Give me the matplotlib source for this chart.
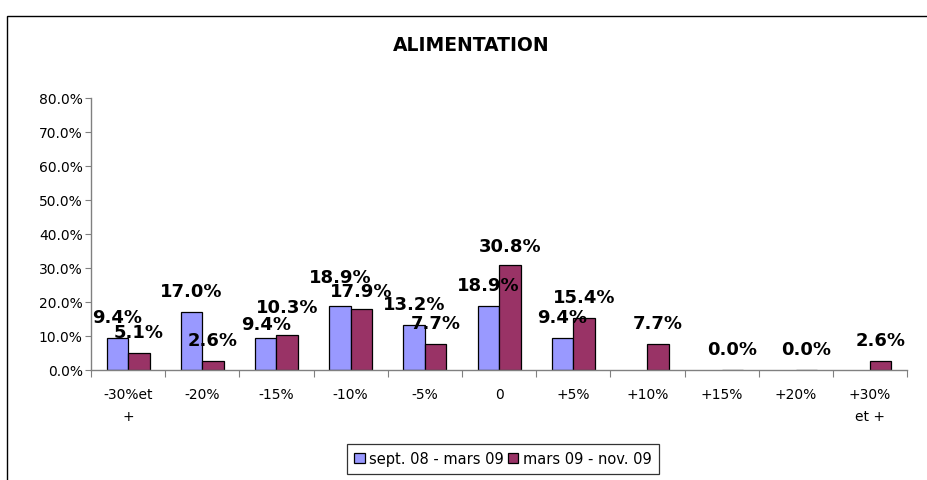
import numpy as np
import matplotlib
matplotlib.use("Agg")
import matplotlib.pyplot as plt
from matplotlib.patches import Rectangle

plt.rcParams['font.family'] = ['DejaVu Sans']

# Données
categories = ["-30%et\n+", "-20%", "-15%", "-10%", "-5%", "0", "+5%",
              "+10%", "+15%", "+20%", "+30%\net +"]
serie1_nom = "sept. 08 - mars 09"
serie2_nom = "mars 09 - nov. 09"
serie1 = [9.4, 17.0, 9.4, 18.9, 13.2, 18.9, 9.4, np.nan, np.nan, np.nan, np.nan]
serie2 = [5.1, 2.6, 10.3, 17.9, 7.7, 30.8, 15.4, 7.7, 0.0, 0.0, 2.6]
yticks = [0, 10, 20, 30, 40, 50, 60, 70, 80]

# décalage vertical des étiquettes (points), comme dans Excel
decal1 = [15, 15, 10, 21, 15, 15, 15, 15, 15, 15, 15]
decal2 = [15, 15, 20, 13, 15, 14, 15, 15, 15, 15, 15]

fig = plt.figure(figsize=(9.27, 4.81), dpi=100)
ax = fig.add_axes([0.0982, 0.2287, 0.8803, 0.5655])

x = np.arange(len(categories))
w = 0.29
b1 = ax.bar(x - w / 2, serie1, w, color='#9999FF', edgecolor='black', linewidth=0.9, label=serie1_nom)
b2 = ax.bar(x + w / 2, serie2, w, color='#993366', edgecolor='black', linewidth=0.9, label=serie2_nom)

# étiquettes de données
for xs, vals, dec in [(x - w / 2, serie1, decal1), (x + w / 2, serie2, decal2)]:
    for xi, v, d in zip(xs, vals, dec):
        if np.isnan(v):
            continue
        ax.annotate(f"{v:.1f}%", (xi, v), xytext=(0, d), textcoords='offset points',
                    ha='center', va='center', fontsize=13, fontweight='bold')

ax.set_xlim(-0.5, len(categories) - 0.5)
ax.set_ylim(0, 80)
ax.set_yticks(yticks)
ax.set_yticklabels([f"{t:.1f}%" for t in yticks], fontsize=10)
ax.tick_params(axis='y', length=4, width=0.8, pad=2, color='#808080')

ax.set_xticks(x)
ax.set_xticklabels(categories, fontsize=10, linespacing=1.75)
ax.set_xticks(np.arange(len(categories) + 1) - 0.5, minor=True)
ax.tick_params(axis='x', which='major', length=0, pad=12)
ax.tick_params(axis='x', which='minor', length=5, width=0.8, color='#808080')

for s in ['top', 'right']:
    ax.spines[s].set_visible(False)
for s in ['left', 'bottom']:
    ax.spines[s].set_color('#808080')
    ax.spines[s].set_linewidth(1.0)

fig.text(0.508, 0.9064, "ALIMENTATION", ha='center', va='center', fontsize=13.5, fontweight='bold')

leg = fig.legend(handles=[b1, b2], loc='center', bbox_to_anchor=(0.5426, 0.0437), ncol=2,
                 fontsize=10.5, frameon=True, fancybox=False, edgecolor='black',
                 handlelength=0.7, handleheight=0.7, handletextpad=0.3, columnspacing=0.3,
                 borderpad=0.5, borderaxespad=0)
leg.get_frame().set_linewidth(0.9)

# cadre du graphique
fig.patches.append(Rectangle((7 / 927, -0.05), 1.0, 0.05 + 1 - 17 / 481, transform=fig.transFigure,
                             fill=False, edgecolor='black', linewidth=1.0))

plt.savefig("out.png", dpi=100)
